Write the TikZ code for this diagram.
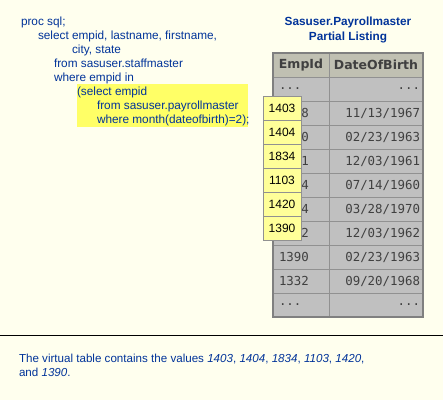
\documentclass[tikz,border=0pt]{standalone}
\usepackage{fontspec}
\setmainfont{Liberation Sans}
\newfontfamily\tabfont{DejaVu Sans Mono}
\newfontfamily\hdrfont{DejaVu Sans}
\usetikzlibrary{positioning}

\definecolor{paper}{RGB}{255,255,238}
\definecolor{sasblue}{RGB}{0,51,153}
\definecolor{hiyellow}{RGB}{255,255,102}
\definecolor{pickyellow}{RGB}{255,255,153}
\definecolor{cellgray}{RGB}{192,192,192}
\definecolor{hdrgray}{RGB}{192,192,178}
\definecolor{cellline}{RGB}{145,145,145}
\definecolor{tabedge}{RGB}{128,128,128}
\definecolor{tabtext}{RGB}{64,64,64}

\tikzset{
  code/.style={anchor=base west, text=sasblue, font=\fontsize{11.8}{14}\selectfont},
  cell/.style={draw=cellline, fill=cellgray, line width=1pt, anchor=north west,
    minimum height=24pt, text=tabtext, font=\tabfont\fontsize{12.4}{14}\selectfont},
  leftcell/.style={cell, text width=44pt, inner xsep=6pt, align=left},
  rightcell/.style={cell, text width=88pt, inner xsep=3pt, align=right},
  hdr/.style={fill=hdrgray, align=center, font=\hdrfont\bfseries\fontsize{12.5}{14}\selectfont},
  pickbox/.style={draw=cellline, fill=pickyellow, line width=1pt, anchor=north west,
    minimum width=38pt, minimum height=24pt, font=\fontsize{12}{14}\selectfont},
  heading/.style={text=sasblue, font=\bfseries\fontsize{11.8}{14}\selectfont}
}

\begin{document}
\begin{tikzpicture}[x=1pt, y=-1pt, every node/.style={inner sep=0pt, outer sep=0pt}]
  \fill[paper] (0,0) rectangle (443,400);
  \useasboundingbox (0,0) rectangle (443,400);

  % Highlighted inner query.
  \node[fill=hiyellow, anchor=north west, minimum width=171pt, minimum height=43pt] (hilite) at (77,84) {};

  % SQL code.
  \node[code] (l1) at (21,25) {proc sql;};
  \node[code] (l2) at (38,39) {select empid, lastname, firstname,};
  \node[code] (l3) at (72,53) {city, state};
  \node[code] (l4) at (54,67) {from sasuser.staffmaster};
  \node[code] (l5) at (54,81) {where empid in};
  \node[code] (l6) at (77,95) {(select empid};
  \node[code] (l7) at (97,109) {from sasuser.payrollmaster};
  \node[code] (l8) at (97,123) {where month(dateofbirth)=2);};

  % Table heading.
  \node[heading] (title) at (348,22) {Sasuser.Payrollmaster};
  \node[heading, below=4.5pt of title] (subtitle) {Partial Listing};

  % Table.
  \node[leftcell, hdr, text width=56pt, inner xsep=0pt] (c-0-1) at (273,53) {EmpId};
  \node[rightcell, hdr, text width=94pt, inner xsep=0pt] (c-0-2) at (329,53) {DateOfBirth};
  \foreach \a/\b [count=\i] in {{...}/{...},
      {\phantom{140}8}/{11/13/1967}, {\phantom{140}0}/{02/23/1963},
      {\phantom{140}1}/{12/03/1961}, {\phantom{140}4}/{07/14/1960},
      {\phantom{140}4}/{03/28/1970}, {\phantom{140}2}/{12/03/1962},
      {1390}/{02/23/1963}, {1332}/{09/20/1968}, {...}/{...}} {
    \node[leftcell] (c-\i-1) at (273,53+24*\i) {\a};
    \node[rightcell] (c-\i-2) at (329,53+24*\i) {\b};
  }
  \draw[tabedge, line width=2pt] (c-0-1.north west) rectangle (c-10-2.south east);

  % Values returned by the subquery.
  \foreach \v [count=\k from 0] in {1403,1404,1834,1103,1420,1390} {
    \node[pickbox] (pick-\k) at (263,96+24*\k) {\v};
  }

  % Separator and note.
  \coordinate (ruleL) at (0,335);
  \coordinate (ruleR) at (443,335);
  \draw[line width=1pt] (ruleL) -- (ruleR);
  \node[code, font=\fontsize{11.6}{14}\selectfont] (note1) at (19,362) {The virtual table contains the values \textit{1403}, \textit{1404}, \textit{1834}, \textit{1103}, \textit{1420},};
  \node[code, font=\fontsize{11.6}{14}\selectfont] (note2) at (19,376) {and \textit{1390}.};
\end{tikzpicture}
\end{document}
